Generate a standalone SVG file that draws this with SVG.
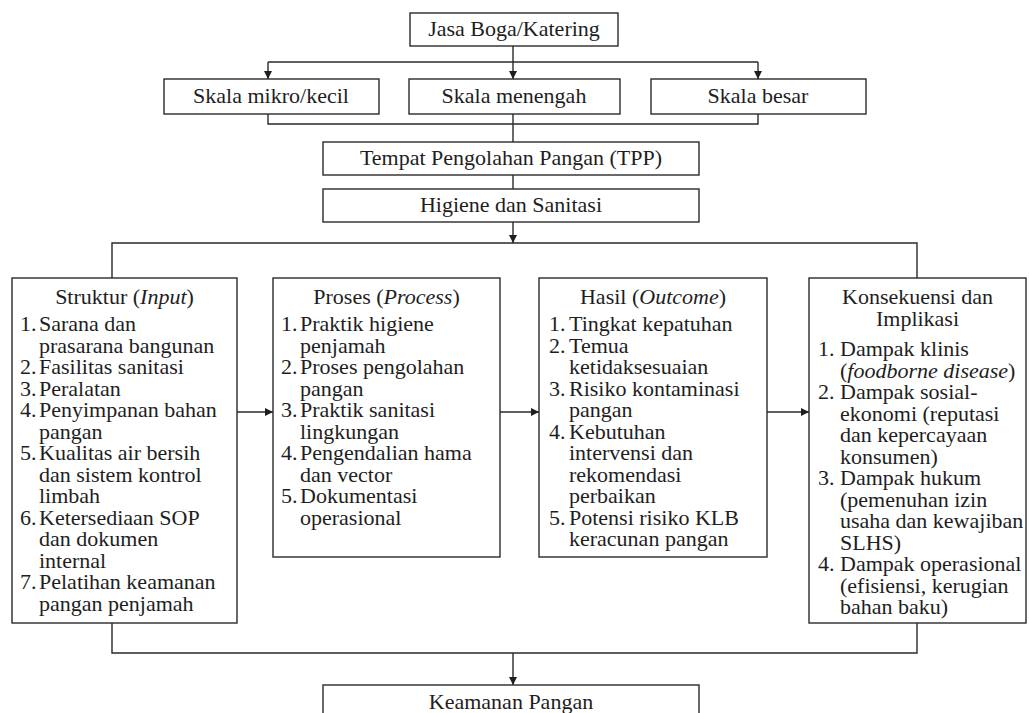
<svg xmlns="http://www.w3.org/2000/svg" width="1029" height="713" viewBox="0 0 1029 713">
<style>
.b{fill:#fff;stroke:#2a2a2a;stroke-width:1.4}
.t{font-family:"Liberation Serif","Times New Roman",serif;font-size:22px;fill:#1e1e1e}
.c{text-anchor:middle}
.i{font-style:italic}
.l{fill:none;stroke:#2a2a2a;stroke-width:1.4}
</style>
<defs>
<marker id="ah" viewBox="0 0 10 10" refX="10" refY="5" markerWidth="8" markerHeight="8" markerUnits="userSpaceOnUse" orient="auto">
<path d="M0,0 L10,5 L0,10 Z" fill="#1e1e1e"/>
</marker>
</defs>
<rect width="1029" height="713" fill="#fff"/>
<g id="connectors">
<path class="l" d="M513,46 V79" marker-end="url(#ah)"/>
<path class="l" d="M268,62 H758"/>
<path class="l" d="M268,62 V79" marker-end="url(#ah)"/>
<path class="l" d="M758,62 V79" marker-end="url(#ah)"/>
<path class="l" d="M268,114 V124 H758 V114"/>
<path class="l" d="M513,114 V142"/>
<path class="l" d="M513,175 V189"/>
<path class="l" d="M513,222 V243" marker-end="url(#ah)"/>
<path class="l" d="M112,278 V243 H917 V278"/>
<path class="l" d="M237,412 H273" marker-end="url(#ah)"/>
<path class="l" d="M500,412 H539" marker-end="url(#ah)"/>
<path class="l" d="M767,412 H809" marker-end="url(#ah)"/>
<path class="l" d="M112,623 V653 H917 V623"/>
<path class="l" d="M513,653 V685" marker-end="url(#ah)"/>
</g>
<g id="jasa">
<rect class="b" x="410" y="13" width="208" height="33"/>
<text class="t c" x="514" y="36">Jasa Boga/Katering</text>
</g>
<g id="mikro">
<rect class="b" x="164" y="79" width="215" height="35"/>
<text class="t c" x="271" y="103">Skala mikro/kecil</text>
</g>
<g id="menengah">
<rect class="b" x="409" y="79" width="211" height="35"/>
<text class="t c" x="514" y="103">Skala menengah</text>
</g>
<g id="besar">
<rect class="b" x="651" y="79" width="215" height="35"/>
<text class="t c" x="758" y="103">Skala besar</text>
</g>
<g id="tpp">
<rect class="b" x="323" y="142" width="376" height="33"/>
<text class="t c" x="511" y="165">Tempat Pengolahan Pangan (TPP)</text>
</g>
<g id="higiene">
<rect class="b" x="323" y="189" width="376" height="33"/>
<text class="t c" x="511" y="212">Higiene dan Sanitasi</text>
</g>
<g id="struktur">
<rect class="b" x="12" y="278" width="225" height="345"/>
<text class="t c" x="124.5" y="304">Struktur (<tspan class="i">Input</tspan>)</text>
<text class="t" x="20" y="331">1.</text><text class="t" x="39" y="331">Sarana dan</text>
<text class="t" x="39" y="352.5">prasarana bangunan</text>
<text class="t" x="20" y="374">2.</text><text class="t" x="39" y="374">Fasilitas sanitasi</text>
<text class="t" x="20" y="395.5">3.</text><text class="t" x="39" y="395.5">Peralatan</text>
<text class="t" x="20" y="417">4.</text><text class="t" x="39" y="417">Penyimpanan bahan</text>
<text class="t" x="39" y="438.5">pangan</text>
<text class="t" x="20" y="460">5.</text><text class="t" x="39" y="460">Kualitas air bersih</text>
<text class="t" x="39" y="481.5">dan sistem kontrol</text>
<text class="t" x="39" y="503">limbah</text>
<text class="t" x="20" y="524.5">6.</text><text class="t" x="39" y="524.5">Ketersediaan SOP</text>
<text class="t" x="39" y="546">dan dokumen</text>
<text class="t" x="39" y="567.5">internal</text>
<text class="t" x="20" y="589">7.</text><text class="t" x="39" y="589">Pelatihan keamanan</text>
<text class="t" x="39" y="610.5">pangan penjamah</text>
</g>
<g id="proses">
<rect class="b" x="273" y="278" width="227" height="279"/>
<text class="t c" x="386.5" y="304">Proses (<tspan class="i">Process</tspan>)</text>
<text class="t" x="281" y="331">1.</text><text class="t" x="300" y="331">Praktik higiene</text>
<text class="t" x="300" y="352.5">penjamah</text>
<text class="t" x="281" y="374">2.</text><text class="t" x="300" y="374">Proses pengolahan</text>
<text class="t" x="300" y="395.5">pangan</text>
<text class="t" x="281" y="417">3.</text><text class="t" x="300" y="417">Praktik sanitasi</text>
<text class="t" x="300" y="438.5">lingkungan</text>
<text class="t" x="281" y="460">4.</text><text class="t" x="300" y="460">Pengendalian hama</text>
<text class="t" x="300" y="481.5">dan vector</text>
<text class="t" x="281" y="503">5.</text><text class="t" x="300" y="503">Dokumentasi</text>
<text class="t" x="300" y="524.5">operasional</text>
</g>
<g id="hasil">
<rect class="b" x="539" y="278" width="228" height="279"/>
<text class="t c" x="653" y="304">Hasil (<tspan class="i">Outcome</tspan>)</text>
<text class="t" x="549" y="331">1.</text><text class="t" x="569" y="331">Tingkat kepatuhan</text>
<text class="t" x="549" y="352.5">2.</text><text class="t" x="569" y="352.5">Temua</text>
<text class="t" x="569" y="374">ketidaksesuaian</text>
<text class="t" x="549" y="395.5">3.</text><text class="t" x="569" y="395.5">Risiko kontaminasi</text>
<text class="t" x="569" y="417">pangan</text>
<text class="t" x="549" y="438.5">4.</text><text class="t" x="569" y="438.5">Kebutuhan</text>
<text class="t" x="569" y="460">intervensi dan</text>
<text class="t" x="569" y="481.5">rekomendasi</text>
<text class="t" x="569" y="503">perbaikan</text>
<text class="t" x="549" y="524.5">5.</text><text class="t" x="569" y="524.5">Potensi risiko KLB</text>
<text class="t" x="569" y="546">keracunan pangan</text>
</g>
<g id="konsekuensi">
<rect class="b" x="809" y="278" width="217" height="345"/>
<text class="t c" x="917.5" y="304">Konsekuensi dan</text>
<text class="t c" x="917.5" y="326">Implikasi</text>
<text class="t" x="818" y="356">1.</text><text class="t" x="840" y="356">Dampak klinis</text>
<text class="t" x="840" y="377.5">(<tspan class="i">foodborne disease</tspan>)</text>
<text class="t" x="818" y="399">2.</text><text class="t" x="840" y="399">Dampak sosial-</text>
<text class="t" x="840" y="420.5">ekonomi (reputasi</text>
<text class="t" x="840" y="442">dan kepercayaan</text>
<text class="t" x="840" y="463.5">konsumen)</text>
<text class="t" x="818" y="485">3.</text><text class="t" x="840" y="485">Dampak hukum</text>
<text class="t" x="840" y="506.5">(pemenuhan izin</text>
<text class="t" x="840" y="528">usaha dan kewajiban</text>
<text class="t" x="840" y="549.5">SLHS)</text>
<text class="t" x="818" y="571">4.</text><text class="t" x="840" y="571">Dampak operasional</text>
<text class="t" x="840" y="592.5">(efisiensi, kerugian</text>
<text class="t" x="840" y="614">bahan baku)</text>
</g>
<g id="keamanan">
<rect class="b" x="323" y="685" width="376" height="40"/>
<text class="t c" x="511" y="709">Keamanan Pangan</text>
</g>
</svg>
